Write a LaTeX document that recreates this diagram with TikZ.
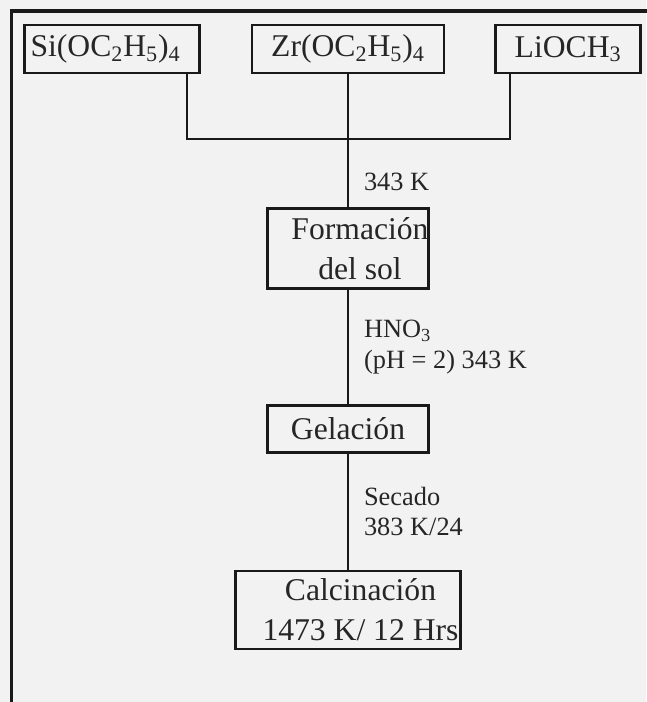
\documentclass[tikz,border=0pt]{standalone}
\usepackage{fontspec}
\setmainfont{Liberation Serif}
\usetikzlibrary{positioning}

\begin{document}
\begin{tikzpicture}[
  node distance=1cm,
  every node/.style={text=black!85},
  stage/.style={rectangle, draw=black!90, line width=1.5pt, inner sep=0pt,
    align=center, font=\fontsize{18}{22.5}\selectfont},
  link/.style={draw=black!90, line width=1.2pt},
  lbl/.style={inner sep=0pt, align=left, font=\fontsize{15}{17.5}\selectfont}
]

\useasboundingbox (0,0) rectangle (12.92,-14.04);
\fill[black!5] (0,0) rectangle (12.92,-14.04);
\draw[line width=2pt, black!90] (0.23,-0.22) rectangle (13.4,-14.6);

\node[stage, minimum width=3.84cm, minimum height=0.96cm] (zr) at (6.96,-0.98)
  {Zr(OC\textsubscript{2}H\textsubscript{5})\textsubscript{4}};
\node[stage, minimum width=3.5cm, minimum height=0.96cm, left=of zr] (si)
  {Si(OC\textsubscript{2}H\textsubscript{5})\textsubscript{4}\hspace*{.25cm}};
\node[stage, minimum width=2.9cm, minimum height=0.96cm, right=0.98cm of zr] (li)
  {LiOCH\textsubscript{3}};

\node[stage, minimum width=3.22cm, minimum height=1.6cm, below=2.66cm of zr] (sol)
  {\hspace*{.48cm}Formación\\\hspace*{.48cm}del sol};
\node[stage, minimum width=3.22cm, minimum height=0.94cm, below=2.28cm of sol] (gel)
  {Gelación};
\node[stage, minimum width=4.5cm, minimum height=1.56cm, below=2.32cm of gel] (calc)
  {\hspace*{.5cm}Calcinación\\\hspace*{.5cm}1473 K/ 12 Hrs};

\coordinate (sidrop) at ([xshift=-0.28cm]si.south east);
\coordinate (lidrop) at ([xshift=0.32cm]li.south west);
\coordinate (join) at ([yshift=-1.3cm]zr.south);

\draw[link] (sidrop) |- (join) -| (lidrop);
\draw[link] (zr) -- (join);
\draw[link] (join) -- node[lbl, right=0.3cm, pos=0.62] {343 K} (sol);
\draw[link] (sol) -- node[lbl, right=0.3cm] {HNO\textsubscript{3}\\(pH = 2) 343 K} (gel);
\draw[link] (gel) -- node[lbl, right=0.3cm] {Secado\\383 K/24} (calc);

\end{tikzpicture}
\end{document}
